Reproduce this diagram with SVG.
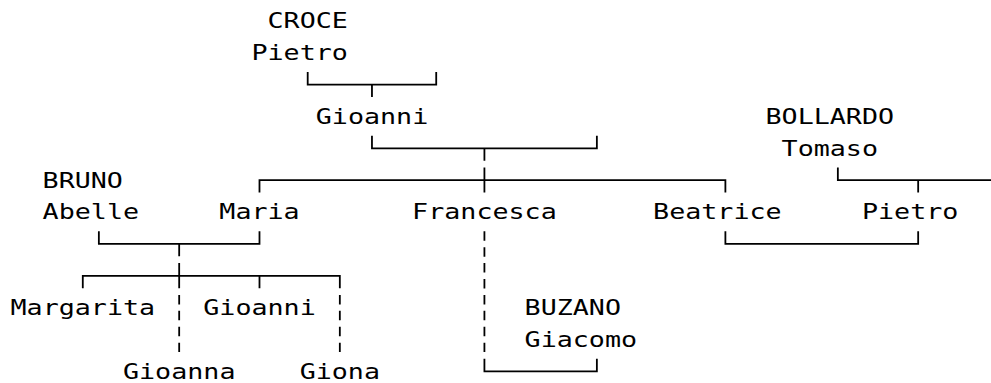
<svg xmlns="http://www.w3.org/2000/svg" width="991" height="383" viewBox="0 0 991 383">
<style>
text{font-family:"DejaVu Sans Mono","Liberation Mono",monospace;font-size:21.5px;fill:#000}
.c{fill:none;stroke:#000;stroke-width:1.8;stroke-linecap:butt}
.d{fill:none;stroke:#000;stroke-width:1.8;stroke-dasharray:9.5 6.43}
</style>
<rect width="991" height="383" fill="#fff"/>
<g id="connectors">
<path class="c" d="M307.7,71.92V84.62H436.22V71.92M371.96,84.62V97.02"/>
<path class="c" d="M371.96,135.64V148.34H596.87V135.64M484.42,148.34V160.74"/>
<path class="c" d="M259.49,192.6V180.2H725.39V192.6M484.42,167.5V192.6"/>
<path class="c" d="M837.85,167.5V180.2H991M918.17,180.2V192.6"/>
<path class="c" d="M98.86,231.22V243.92H259.49V231.22M179.18,243.92V256.32"/>
<path class="c" d="M725.39,231.22V243.92H918.17V231.22"/>
<path class="c" d="M82.79,288.18V275.78H339.83V288.18M179.18,263.08V288.18M259.49,275.78V288.18"/>
<path class="d" d="M179.18,294.94V351.9"/>
<path class="d" d="M339.83,294.94V351.9"/>
<path class="d" d="M484.42,231.22V351.9"/>
<path class="c" d="M484.42,358.66V371.36H596.87V358.66"/>
</g>
<g id="croce-pietro"><text x="267.54" y="28.2" textLength="80.3" lengthAdjust="spacingAndGlyphs">CROCE</text><text x="251.48" y="60.06" textLength="96.4" lengthAdjust="spacingAndGlyphs">Pietro</text></g>
<g id="gioanni"><text x="315.74" y="123.78" textLength="112.5" lengthAdjust="spacingAndGlyphs">Gioanni</text></g>
<g id="bollardo-tomaso"><text x="765.56" y="123.78" textLength="128.5" lengthAdjust="spacingAndGlyphs">BOLLARDO</text><text x="781.62" y="155.64" textLength="96.4" lengthAdjust="spacingAndGlyphs">Tomaso</text></g>
<g id="bruno-abelle"><text x="42.63" y="187.5" textLength="80.3" lengthAdjust="spacingAndGlyphs">BRUNO</text><text x="42.63" y="219.36" textLength="96.4" lengthAdjust="spacingAndGlyphs">Abelle</text></g>
<g id="maria"><text x="219.35" y="219.36" textLength="80.3" lengthAdjust="spacingAndGlyphs">Maria</text></g>
<g id="francesca"><text x="412.13" y="219.36" textLength="144.6" lengthAdjust="spacingAndGlyphs">Francesca</text></g>
<g id="beatrice"><text x="653.1" y="219.36" textLength="128.5" lengthAdjust="spacingAndGlyphs">Beatrice</text></g>
<g id="pietro"><text x="861.95" y="219.36" textLength="96.4" lengthAdjust="spacingAndGlyphs">Pietro</text></g>
<g id="margarita"><text x="10.5" y="314.94" textLength="144.6" lengthAdjust="spacingAndGlyphs">Margarita</text></g>
<g id="gioanni2"><text x="203.28" y="314.94" textLength="112.5" lengthAdjust="spacingAndGlyphs">Gioanni</text></g>
<g id="buzano-giacomo"><text x="524.58" y="314.94" textLength="96.4" lengthAdjust="spacingAndGlyphs">BUZANO</text><text x="524.58" y="346.8" textLength="112.5" lengthAdjust="spacingAndGlyphs">Giacomo</text></g>
<g id="gioanna"><text x="122.96" y="378.66" textLength="112.5" lengthAdjust="spacingAndGlyphs">Gioanna</text></g>
<g id="giona"><text x="299.67" y="378.66" textLength="80.3" lengthAdjust="spacingAndGlyphs">Giona</text></g>
</svg>
